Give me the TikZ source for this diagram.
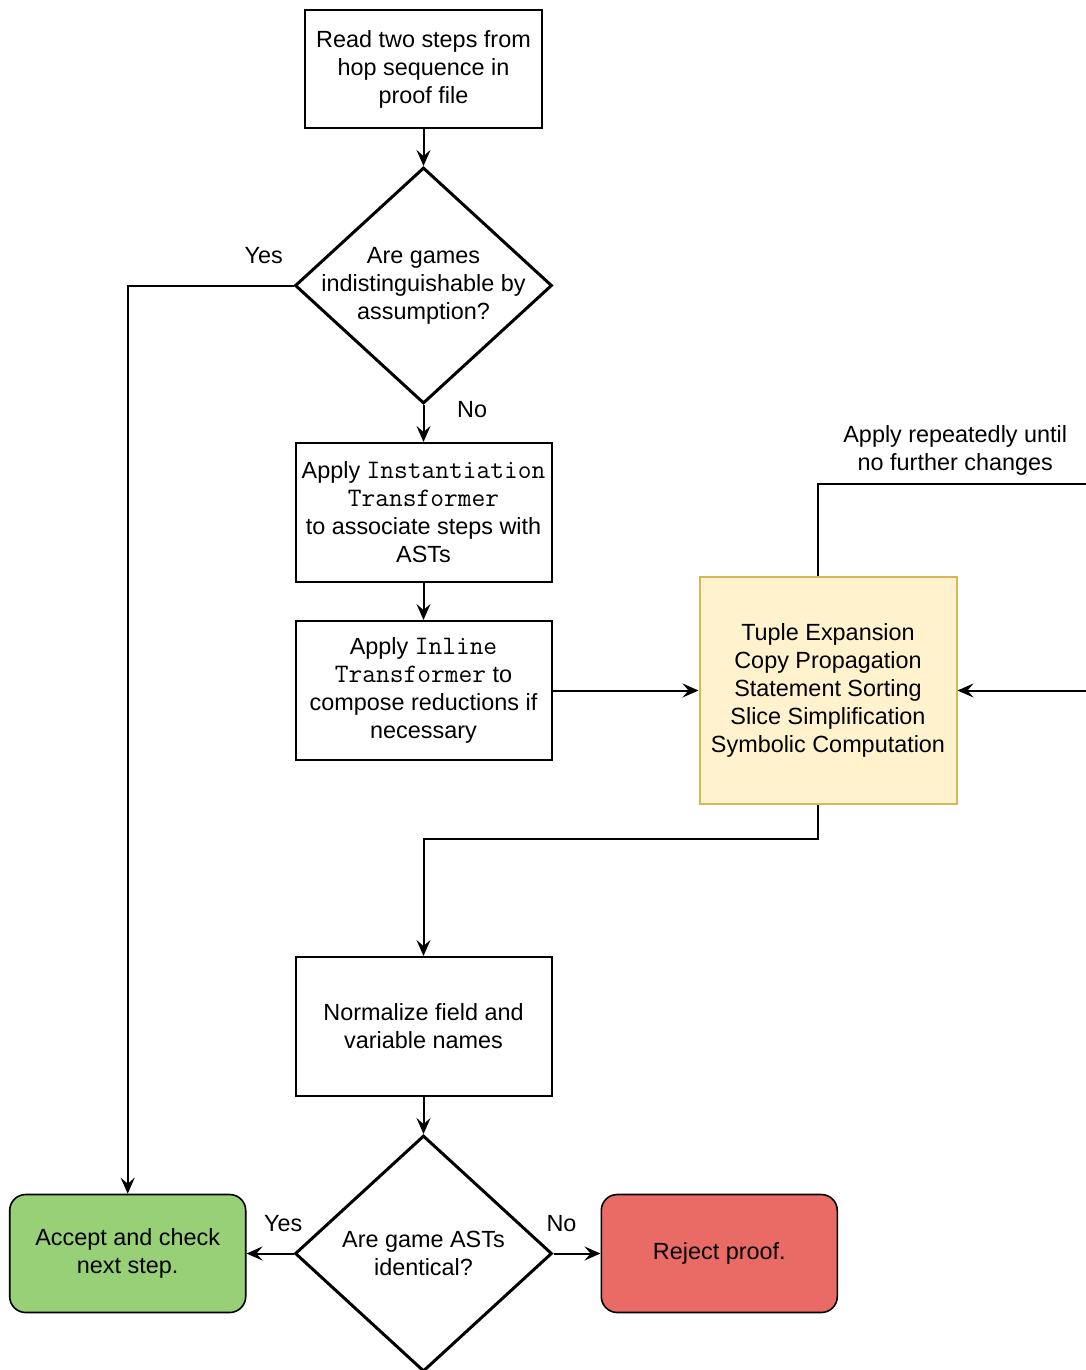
\documentclass[tikz,border=0pt]{standalone}
\usepackage{fontspec}
\setmainfont{Liberation Sans}
\setmonofont{Latin Modern Mono}[Scale=1.14]
\usetikzlibrary{positioning,arrows.meta,shapes.geometric}
\definecolor{tupfill}{HTML}{FFF2CC}
\definecolor{tupdraw}{HTML}{D6B656}
\definecolor{accfill}{HTML}{97D077}
\definecolor{rejfill}{HTML}{EA6B66}

\begin{document}
\begin{tikzpicture}[>={Stealth[length=8pt,width=7pt,inset=3pt]},
   node distance=18.5pt and 73pt,
   every node/.style={font=\fontsize{11.7}{14}\selectfont},
   box/.style={draw,line width=1pt,align=center,inner xsep=1pt,
     minimum width=128pt,minimum height=69.5pt},
   decision/.style={diamond,draw,line width=1.5pt,align=center,inner sep=-8pt,
     minimum width=128.5pt,minimum height=118pt},
   final/.style={draw,line width=0.8pt,rounded corners=8pt,align=center,
     minimum width=118pt,minimum height=59pt},
   line/.style={line width=1pt}]
  \useasboundingbox (0,0) rectangle (543pt,-685pt);
  \node[box,minimum width=118.5pt,minimum height=59pt] (read) at (211.75pt,-34.5pt)
    {Read two steps from\\hop sequence in\\proof file};
  \node[decision] (assume) [below=of read] {Are games\\indistinguishable by\\assumption?};
  \node[box] (inst) [below=of assume]
    {Apply \texttt{Instantiation}\\\texttt{Transformer}\\to associate steps with\\ASTs};
  \node[box] (inline) [below=of inst]
    {Apply \texttt{Inline}\\\texttt{Transformer} to\\compose reductions if\\necessary};
  \node[box,fill=tupfill,draw=tupdraw,minimum width=128.5pt,minimum height=113.5pt] (tuple)
    [right=of inline]
    {Tuple Expansion\\Copy Propagation\\Statement Sorting\\Slice Simplification\\Symbolic Computation};
  \node[box] (norm) [below=97.5pt of inline] {Normalize field and\\variable names};
  \node[decision] (same) [below=of norm] {Are game ASTs\\identical?};
  \node[final,fill=accfill] (accept) [left=23.5pt of same] {Accept and check\\next step.};
  \node[final,fill=rejfill] (reject) [right=23.5pt of same] {Reject proof.};
  \coordinate[above right=103.5pt and 67.5pt of tuple.east] (loop);

  \draw[line,->] (read) -- (assume);
  \draw[line,->] (assume.west) -| node[pos=0.09,above=7pt]{Yes} (accept.north);
  \draw[line,->] (assume.south) -- node[pos=0.115,right=13pt]{No} (inst.north);
  \draw[line,->] (inst) -- (inline);
  \draw[line,->] (inline) -- (tuple);
  \draw[line,->] ([xshift=-5pt]tuple.north) |- node[pos=0.75,above,align=center]
    {Apply repeatedly until\\no further changes} (loop) |- (tuple.east);
  \draw[line,->] ([xshift=-5pt]tuple.south) -- ++(0,-17pt) -| (norm.north);
  \draw[line,->] (norm) -- (same);
  \draw[line,->] (same.west) -- node[pos=0.22,above=7pt]{Yes} (accept.east);
  \draw[line,->] (same.east) -- node[pos=0.17,above=7pt]{No} (reject.west);
\end{tikzpicture}
\end{document}
